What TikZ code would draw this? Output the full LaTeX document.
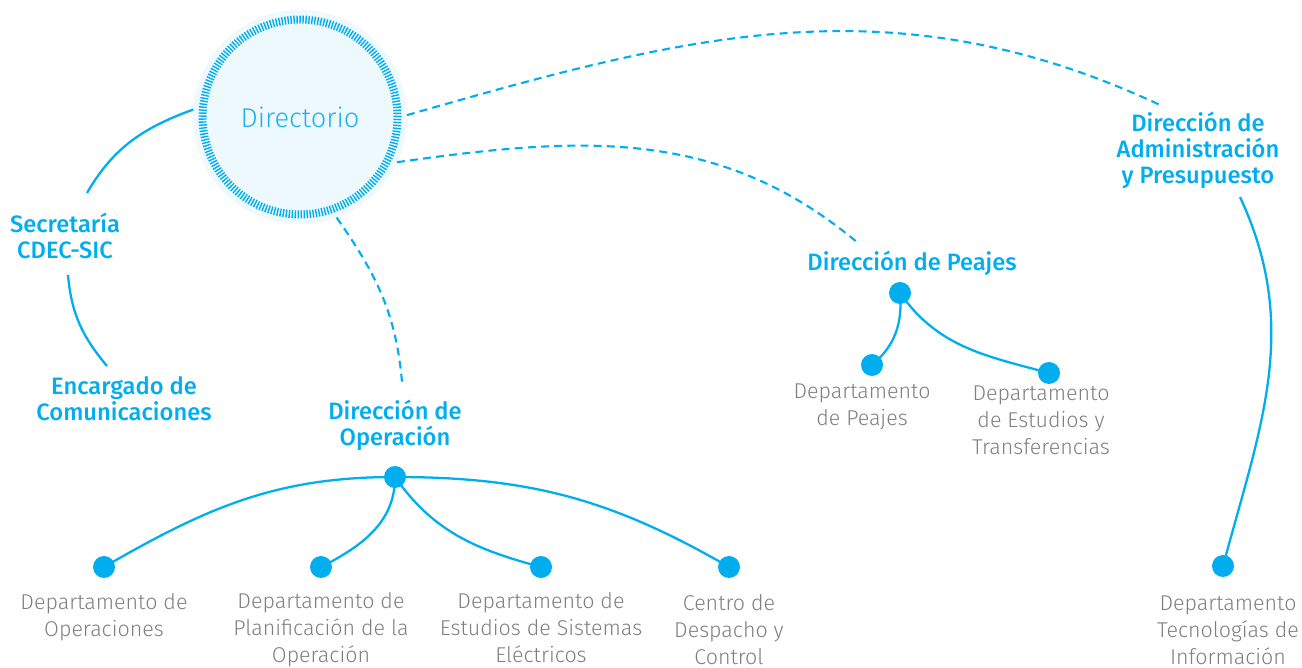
\documentclass[tikz,border=0pt]{standalone}
\usepackage{fontspec}
\setmainfont{Fira Sans}
\newfontfamily\lightf{Fira Sans Light}
\newfontfamily\medf{Fira Sans Medium}
\definecolor{cy}{HTML}{00AEEF}
\definecolor{cyt}{HTML}{1DB2EC}
\definecolor{gy}{HTML}{7F7F7F}
\definecolor{pale}{HTML}{EEF9FE}
\begin{document}
\begin{tikzpicture}[x=0.02cm,y=0.02cm,
  conn/.style={cy, line width=1.3pt},
  dconn/.style={cy, line width=1.2pt, dash pattern=on 4.5pt off 3pt},
  dot/.style={circle, fill=cy, minimum size=0.44cm, inner sep=0pt},
  head/.style={text=cy, font=\medf\fontsize{13.5}{14.8}\selectfont, align=center, inner sep=0pt},
  dept/.style={text=gy, font=\lightf\fontsize{12.2}{15.3}\selectfont, align=center, inner sep=0pt}]
\useasboundingbox (0,0) rectangle (1302,-668);

% Directorio
\node[circle, fill=pale, minimum size=4.28cm, inner sep=0pt, outer sep=0pt] (dir) at (300,-117) {};
\draw[cy, line width=0.16cm, dash pattern=on 0.8pt off 0.9pt] (dir.center) circle (1.95cm);
\node[text=cyt, font=\lightf\fontsize{15.5}{17}\selectfont] (dirt) at (300,-117) {Directorio};

% Heads
\node[head] (sec) at (65,-236) {Secretaría\\CDEC-SIC};
\node[head] (enc) at (124,-399) {Encargado de\\Comunicaciones};
\node[head] (op) at (395,-425) {Dirección de\\Operación};
\node[head] (pea) at (912,-263) {Dirección de Peajes};
\node[head] (adm) at (1198,-150) {Dirección de\\Administración\\y Presupuesto};

% Dots
\node[dot] (oph) at (395,-477) {};
\node[dot] (o1) at (104,-567) {};
\node[dot] (o2) at (321,-567) {};
\node[dot] (o3) at (541,-567) {};
\node[dot] (o4) at (729,-567) {};
\node[dot] (ph) at (900,-293) {};
\node[dot] (p1) at (872,-365) {};
\node[dot] (p2) at (1049,-373) {};
\node[dot] (a1) at (1223,-566) {};

% Dept labels
\node[dept] (lo1) at (104,-617) {Departamento de\\Operaciones};
\node[dept] (lo2) at (321,-630) {Departamento de\\Planificación de la\\Operación};
\node[dept] (lo3) at (541,-628) {Departamento de\\Estudios de Sistemas\\Eléctricos};
\node[dept] (lo4) at (729,-630) {Centro de\\Despacho y\\Control};
\node[dept] (lp1) at (862,-407) {Departamento\\de Peajes};
\node[dept] (lp2) at (1041,-420) {Departamento\\de Estudios y\\Transferencias};
\node[dept] (la1) at (1228,-630) {Departamento\\Tecnologías de\\Información};

% Solid connectors
\draw[conn] (dir.176) to[out=200, in=60] ([shift={(22,43)}]sec.center);
\draw[conn] ([shift={(3,-39)}]sec.center) to[out=-85, in=130] ([shift={(-17,33)}]enc.center);
\draw[conn] (oph.center) to[out=180, in=30] (o1.center);
\draw[conn] (oph.center) to[out=-90, in=27] (o2.center);
\draw[conn] (oph.center) to[out=-55, in=165] (o3.center);
\draw[conn] (oph.center) to[out=0, in=150] (o4.center);
\draw[conn] (ph.center) to[out=-85, in=40] (p1.center);
\draw[conn] (ph.center) to[out=-55, in=165] (p2.center);
\draw[conn] ([shift={(42,-47)}]adm.center) to[out=-65, in=75] (a1.center);

% Dashed connectors
\draw[dconn] (dir.290) to[out=-55, in=95] ([shift={(7,43)}]op.center);
\draw[dconn] (dir.-25) to[out=8, in=140] ([shift={(-54,20)}]pea.center);
\draw[dconn] (dir.1) to[out=16, in=155] ([shift={(-38,45)}]adm.center);
\end{tikzpicture}
\end{document}
